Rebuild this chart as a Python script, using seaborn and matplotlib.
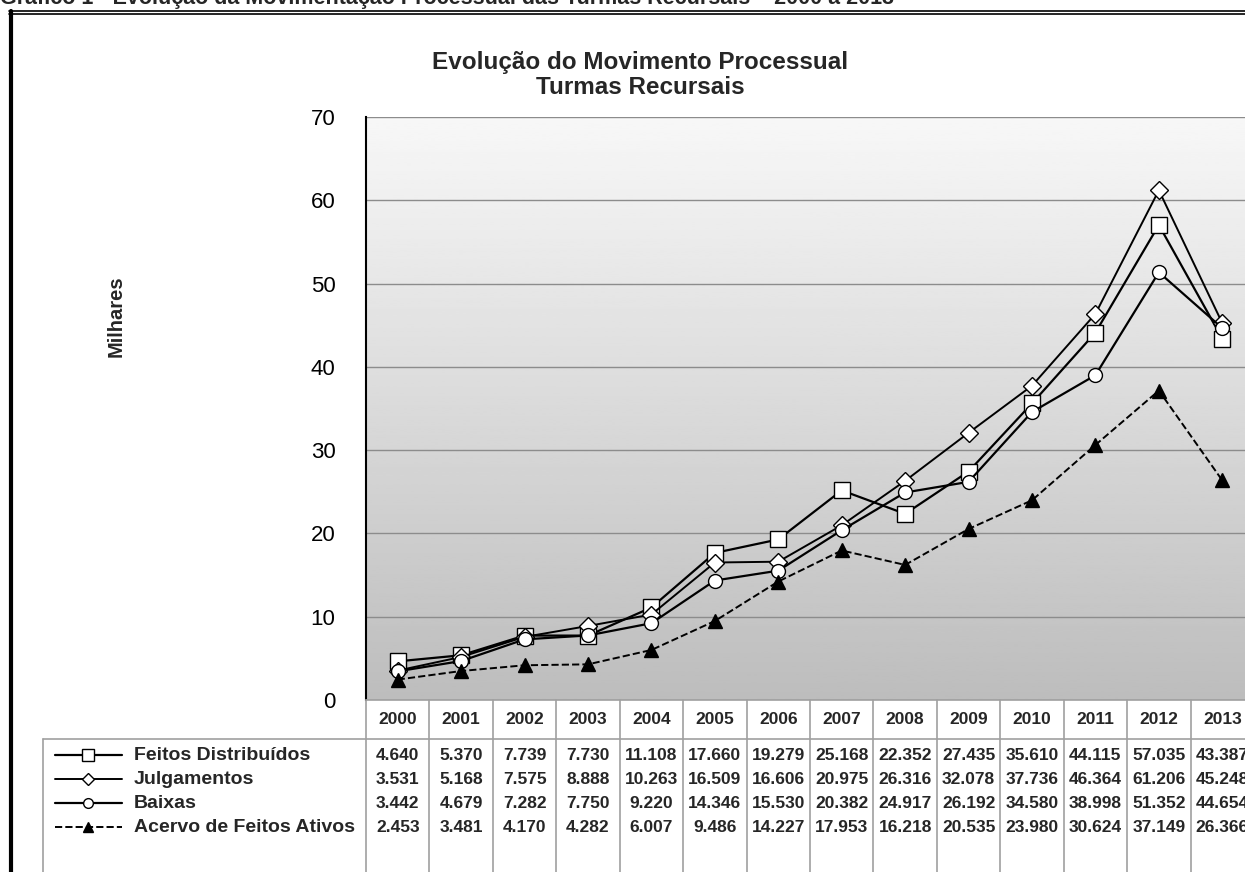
import numpy as np
import pandas as pd
import matplotlib
matplotlib.use("Agg")
import matplotlib.pyplot as plt
from matplotlib.lines import Line2D
from matplotlib.transforms import blended_transform_factory
import seaborn as sns

sns.set_style("white")
plt.rcParams['font.family'] = ['Liberation Sans', 'DejaVu Sans']

years = [2000, 2001, 2002, 2003, 2004, 2005, 2006, 2007, 2008, 2009, 2010, 2011, 2012, 2013]
feitos = [4640, 5370, 7739, 7730, 11108, 17660, 19279, 25168, 22352, 27435, 35610, 44115, 57035, 43387]
julgamentos = [3531, 5168, 7575, 8888, 10263, 16509, 16606, 20975, 26316, 32078, 37736, 46364, 61206, 45248]
baixas = [3442, 4679, 7282, 7750, 9220, 14346, 15530, 20382, 24917, 26192, 34580, 38998, 51352, 44654]
acervo = [2453, 3481, 4170, 4282, 6007, 9486, 14227, 17953, 16218, 20535, 23980, 30624, 37149, 26366]
series_names = ["Feitos Distribuídos", "Julgamentos", "Baixas", "Acervo de Feitos Ativos"]

df = pd.DataFrame({"pos": range(len(years)), "year": years,
                   series_names[0]: feitos, series_names[1]: julgamentos,
                   series_names[2]: baixas, series_names[3]: acervo})

styles = {
    series_names[0]: dict(marker='s', markersize=12, markerfacecolor='white', linewidth=1.6, linestyle='-'),
    series_names[1]: dict(marker='D', markersize=9, markerfacecolor='white', linewidth=1.4, linestyle='-'),
    series_names[2]: dict(marker='o', markersize=10, markerfacecolor='white', linewidth=1.6, linestyle='-'),
    series_names[3]: dict(marker='^', markersize=9.5, markerfacecolor='black', linewidth=1.4, linestyle='--'),
}

W, H = 1245, 872
fig = plt.figure(figsize=(W / 100, H / 100), dpi=100)

def fx(px):
    return px / W

def fy(py):
    return 1 - py / H

ax = fig.add_axes([fx(366), fy(700), fx(1254 - 366), (700 - 117) / H])
ax.set_xlim(-0.5, len(years) - 0.5)
ax.set_ylim(0, 70)

# background gradient of the plot area
grad = np.linspace(0.74, 0.97, 256).reshape(-1, 1)
ax.imshow(grad, extent=[-0.5, len(years) - 0.5, 0, 70], aspect='auto', cmap='gray',
          vmin=0, vmax=1, origin='lower', zorder=0)

for name in series_names:
    st = styles[name]
    sns.lineplot(x=df["pos"], y=df[name] / 1000, ax=ax, color='black',
                 markeredgecolor='black', markeredgewidth=1.0, zorder=3, **st)

ax.set_yticks(range(0, 71, 10))
ax.set_xticks([])
ax.tick_params(axis='y', labelsize=16, length=10, width=1.2, pad=12, direction='out', colors='black')
ax.yaxis.grid(True, color='#8c8c8c', linewidth=1.0, zorder=1)
ax.set_axisbelow(True)
for s in ['top', 'right', 'bottom']:
    ax.spines[s].set_visible(False)
ax.spines['left'].set_color('black')
ax.spines['left'].set_linewidth(1.5)
ax.spines['left'].set_zorder(4)
ax.set_xlabel("")
ax.set_ylabel("")

fig.text(fx(116), fy(316), "Milhares", rotation=90, ha='center', va='center',
         fontsize=14.5, fontweight='bold')
fig.text(fx(640), fy(75), "Evolução do Movimento Processual\nTurmas Recursais",
         ha='center', va='center', fontsize=17.5, fontweight='bold', linespacing=1.15)

# caption cut off at the top of the page
fig.text(fx(0), fy(4), "Gráfico 1 - Evolução da Movimentação Processual das Turmas Recursais – 2000 a 2013",
         ha='left', va='baseline', fontsize=15.5, fontweight='bold')

# page frame
frame_kw = dict(transform=fig.transFigure, color='black')
fig.add_artist(Line2D([fx(9), 1.0], [fy(11.5), fy(11.5)], linewidth=1.2, **frame_kw))
fig.add_artist(Line2D([fx(9), 1.0], [fy(14.5), fy(14.5)], linewidth=1.2, **frame_kw))
fig.add_artist(Line2D([fx(10.5), fx(10.5)], [fy(11), 0], linewidth=3, **frame_kw))

# data table under the chart
tr = blended_transform_factory(ax.transData, fig.transFigure)
grid_kw = dict(color='#a0a0a0', linewidth=1.2)
fig.add_artist(Line2D([fx(366), 1.0], [fy(700), fy(700)], transform=fig.transFigure, **grid_kw))
fig.add_artist(Line2D([fx(43), 1.0], [fy(739), fy(739)], transform=fig.transFigure, **grid_kw))
fig.add_artist(Line2D([fx(43), fx(43)], [fy(739), 0], transform=fig.transFigure, **grid_kw))
for i in range(len(years) + 1):
    fig.add_artist(Line2D([i - 0.5, i - 0.5], [fy(700), 0], transform=tr, **grid_kw))

for i, yr in enumerate(years):
    fig.text(i, fy(719), str(yr), transform=tr, ha='center', va='center',
             fontsize=12.5, fontweight='bold')

row_y = [755, 779, 803, 827]
for name, py in zip(series_names, row_y):
    vals = df[name]
    for i, v in enumerate(vals):
        label = f"{v:,}".replace(",", ".")
        fig.text(i, fy(py), label, transform=tr, ha='center', va='center',
                 fontsize=12.5, fontweight='bold')
    st = styles[name]
    fig.add_artist(Line2D([fx(55), fx(122)], [fy(py), fy(py)], transform=fig.transFigure,
                          color='black', linewidth=st['linewidth'], linestyle=st['linestyle']))
    fig.add_artist(Line2D([fx(88)], [fy(py)], transform=fig.transFigure, marker=st['marker'],
                          markersize=st['markersize'] * 0.7, markerfacecolor=st['markerfacecolor'],
                          markeredgecolor='black', linestyle='none'))
    fig.text(fx(134), fy(py), name, ha='left', va='center', fontsize=14, fontweight='bold')

fig.savefig("out.png", dpi=100)
